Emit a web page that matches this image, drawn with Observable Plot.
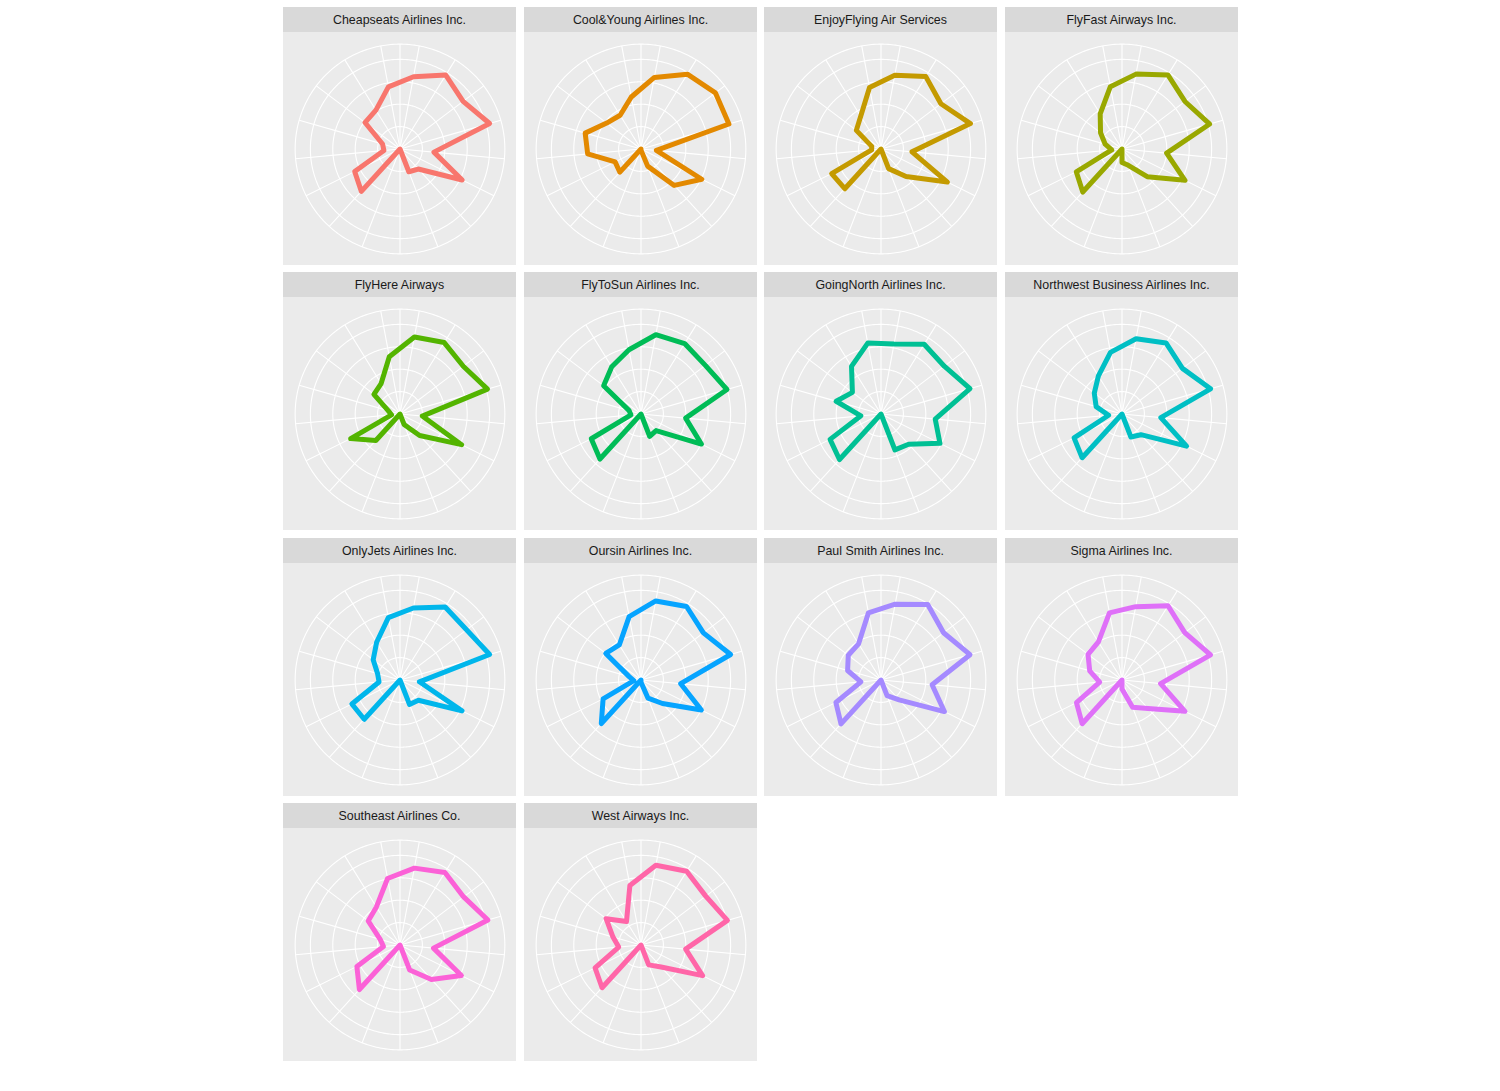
<!DOCTYPE html>
<html>
<head>
<meta charset="utf-8">
<script src="https://cdn.jsdelivr.net/npm/d3@7"></script>
<script src="https://cdn.jsdelivr.net/npm/@observablehq/plot@0.6"></script>
<style>
  html, body { margin: 0; padding: 0; background: #ffffff; }
  #chart { position: relative; width: 1500px; height: 1091px; background: #ffffff;
           font-family: "Liberation Sans", Arial, sans-serif; overflow: hidden; }
  .panel { position: absolute; width: 233px; }
  .strip { height: 25px; background: #D9D9D9; color: #1A1A1A; font-size: 12.4px;
           display: flex; align-items: center; justify-content: center; white-space: nowrap;
           padding-top: 1px; box-sizing: border-box; }
  .panel svg { display: block; }
</style>
</head>
<body>
<div id="chart"></div>
<script>
// ---- data -------------------------------------------------------------
const categories = ["v01","v02","v03","v04","v05","v06","v07","v08","v09",
                    "v10","v11","v12","v13","v14","v15","v16","v17"];

const airlines = [
  "Cheapseats Airlines Inc.", "Cool&Young Airlines Inc.", "EnjoyFlying Air Services",
  "FlyFast Airways Inc.", "FlyHere Airways", "FlyToSun Airlines Inc.",
  "GoingNorth Airlines Inc.", "Northwest Business Airlines Inc.", "OnlyJets Airlines Inc.",
  "Oursin Airlines Inc.", "Paul Smith Airlines Inc.", "Sigma Airlines Inc.",
  "Southeast Airlines Co.", "West Airways Inc."
];

const cheapseats  = [3.28, 3.88, 3.53, 4.16, 1.52, 3.10, 1.21, 1.09, 0.00, 0.00, 2.56, 2.26, 0.72, 0.81, 1.96, 2.04, 2.82];
const coolYoung   = [3.25, 3.93, 4.16, 4.08, 0.69, 3.03, 2.20, 0.82, 0.05, 0.00, 1.40, 1.29, 2.39, 2.59, 1.92, 1.77, 2.36];
const enjoyFlying = [3.35, 3.80, 3.35, 4.15, 1.39, 3.31, 1.66, 0.94, 0.00, 0.00, 2.40, 2.46, 0.42, 0.43, 1.38, 1.72, 2.79];
const flyFast     = [3.40, 3.89, 3.52, 4.07, 2.00, 3.14, 1.67, 0.78, 0.60, 0.00, 2.60, 2.28, 0.46, 0.78, 1.20, 1.85, 2.83];
const flyHere     = [3.50, 3.75, 3.54, 4.06, 1.00, 3.07, 1.30, 0.50, 0.00, 0.00, 1.60, 2.46, 0.38, 0.55, 1.46, 1.60, 2.60];
const flyToSun    = [3.60, 3.70, 3.60, 3.99, 2.00, 3.01, 1.00, 1.07, 0.00, 0.00, 2.72, 2.48, 0.45, 0.55, 2.09, 2.48, 2.92];
const goingNorth  = [3.18, 3.66, 3.54, 4.13, 2.43, 2.94, 1.83, 1.72, 0.00, 0.00, 2.75, 2.54, 0.90, 2.08, 1.60, 2.50, 3.22];
const northwest   = [3.42, 3.73, 3.38, 4.11, 1.74, 3.22, 1.25, 1.10, 0.00, 0.00, 2.64, 2.39, 0.60, 1.20, 1.55, 2.00, 2.80];
const onlyJets    = [3.27, 3.83, 3.72, 4.16, 0.87, 3.09, 1.22, 1.17, 0.00, 0.00, 2.37, 2.40, 0.94, 1.04, 1.50, 1.98, 2.83];
const oursin      = [3.59, 3.86, 3.49, 4.16, 1.78, 3.01, 1.42, 0.87, 0.10, 0.00, 2.63, 1.89, 0.32, 0.55, 1.97, 1.84, 2.88];
const paulSmith   = [3.44, 3.96, 3.50, 4.13, 2.29, 3.16, 1.20, 0.75, 0.00, 0.00, 2.65, 2.25, 0.90, 1.55, 1.83, 1.90, 3.05];
const sigma       = [3.33, 3.90, 3.51, 4.11, 1.73, 3.14, 1.72, 1.31, 0.40, 0.00, 2.64, 2.27, 1.00, 1.50, 1.90, 2.00, 3.05];
const southeast   = [3.49, 3.81, 3.56, 4.08, 1.50, 3.06, 2.08, 1.20, 0.00, 0.00, 2.69, 2.15, 0.74, 0.92, 1.78, 2.00, 3.02];
const west        = [3.62, 3.87, 3.62, 4.01, 2.00, 3.07, 1.33, 0.95, 0.00, 0.00, 2.58, 2.29, 1.00, 1.30, 1.95, 1.23, 2.70];

const series = [cheapseats, coolYoung, enjoyFlying, flyFast, flyHere, flyToSun, goingNorth,
                northwest, onlyJets, oursin, paulSmith, sigma, southeast, west];

const radialBreaks = [1, 2, 3, 4];
const rDomain = [0, 4.16];

// ---- ggplot2 default hue palette (HCL, CIE-LUV polar) -------------------
function hclColor(h, c, l) {
  const Xn = 95.047, Yn = 100, Zn = 108.883;
  const hr = h * Math.PI / 180;
  const u = c * Math.cos(hr), v = c * Math.sin(hr);
  const Y = l > 8 ? Yn * Math.pow((l + 16) / 116, 3) : Yn * l / 903.3;
  const den = Xn + 15 * Yn + 3 * Zn;
  const un = 4 * Xn / den, vn = 9 * Yn / den;
  const up = u / (13 * l) + un, vp = v / (13 * l) + vn;
  const X = Y * 9 * up / (4 * vp);
  const Z = Y * (12 - 3 * up - 20 * vp) / (4 * vp);
  const x = X / 100, y = Y / 100, z = Z / 100;
  const lin = [
     3.2404542 * x - 1.5371385 * y - 0.4985314 * z,
    -0.9692660 * x + 1.8760108 * y + 0.0415560 * z,
     0.0556434 * x - 0.2040259 * y + 1.0572252 * z
  ];
  const gam = t => { t = Math.max(0, Math.min(1, t));
    return t <= 0.0031308 ? 12.92 * t : 1.055 * Math.pow(t, 1 / 2.4) - 0.055; };
  const [r, g, b] = lin.map(t => Math.round(255 * gam(t)));
  return d3.rgb(r, g, b).formatHex();
}
const palette = airlines.map((_, i) => hclColor(15 + 360 * i / airlines.length, 100, 65));

// ---- polar scales: angle -> longitude, radius -> latitude ---------------
// (azimuthal-equidistant projection centred on the pole = polar coordinates)
const lon = d3.scalePoint(categories, [180, -180]).padding(0.5);   // clockwise from top
const lat = d3.scaleLinear(rDomain, [90, 50]);                     // r max at 40° (0.4 of panel)
const outerLat = 45;                                                // grid edge at 0.45 of panel
const spokes = [180, ...categories.map(c => lon(c))];
const circle = deg => ({type: "LineString",
  coordinates: d3.geoCircle().center([0, 90]).radius(deg).precision(1)().coordinates[0]});
const rings = [...radialBreaks.map(b => circle(90 - lat(b))), circle(90 - outerLat)];

// ---- layout -------------------------------------------------------------
const chart = document.getElementById("chart");
const ncol = 4, pw = 233;
airlines.forEach((name, k) => {
  const col = k % ncol, row = Math.floor(k / ncol);
  const panel = document.createElement("div");
  panel.className = "panel";
  panel.style.left = Math.round(283 + col * 240.58) + "px";
  panel.style.top = Math.round(7.33 + row * 265.33 - 0.4) + "px";
  const s = document.createElement("div");
  s.className = "strip";
  s.textContent = name;
  panel.appendChild(s);

  const rows = categories.map((c, i) => ({category: c, value: series[k][i]}));
  const svg = Plot.plot({
    width: pw, height: pw, margin: 0,
    style: {background: "#EBEBEB", overflow: "visible"},
    projection: {
      type: "azimuthal-equidistant",
      rotate: [0, -90],
      domain: d3.geoCircle().center([0, 90]).radius(50).precision(1)()
    },
    marks: [
      Plot.geo(rings, {fill: "none", stroke: "#FFFFFF", strokeWidth: 1.1}),
      Plot.link(spokes, {x1: d => d, y1: 90, x2: d => d, y2: outerLat,
                         stroke: "#FFFFFF", strokeWidth: 1.1}),
      Plot.line(rows, {x: d => lon(d.category), y: d => lat(d.value),
                       curve: "linear-closed", stroke: palette[k], strokeWidth: 5,
                       strokeLinejoin: "round", strokeLinecap: "round"})
    ]
  });
  panel.appendChild(svg);
  chart.appendChild(panel);
});
</script>
</body>
</html>
